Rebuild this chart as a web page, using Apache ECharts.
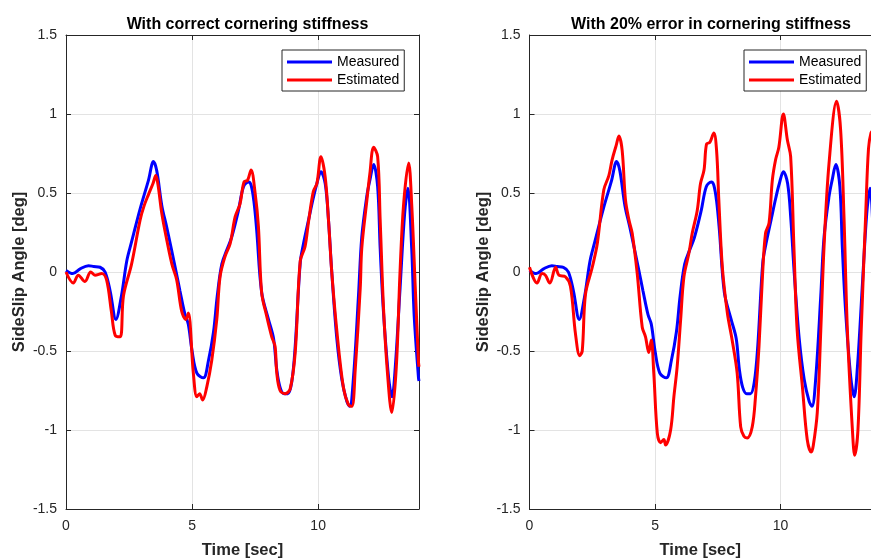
<!DOCTYPE html>
<html>
<head>
<meta charset="utf-8">
<script src="https://cdn.jsdelivr.net/npm/echarts@6/dist/echarts.min.js"></script>
<style>
html,body{margin:0;padding:0;background:#fff;}
#chart{width:871px;height:558px;}
</style>
</head>
<body>
<div id="chart"></div>
<script>
// ---- Data ----
const titles = ['With correct cornering stiffness', 'With 20% error in cornering stiffness'];
const seriesNames = ['Measured', 'Estimated'];
const yTicks = [-1.5, -1, -0.5, 0, 0.5, 1, 1.5];
const xTicks = [0, 5, 10];
const xMax = [14, 13.6];

const measT = [0, 0.27, 0.56, 0.89, 1.1, 1.35, 1.55, 1.75, 1.98, 2.2, 2.41, 2.6, 2.94, 3.27, 3.47, 3.6, 3.8, 4.0, 4.33, 4.52, 4.72, 4.85, 5.0, 5.19, 5.45, 5.65, 5.85, 6.0, 6.18, 6.38, 6.57, 6.84, 7.04, 7.24, 7.34, 7.45, 7.56, 7.76, 8.03, 8.23, 8.36, 8.49, 8.65, 8.8, 8.95, 9.09, 9.29, 9.42, 9.62, 9.81, 9.95, 10.11, 10.28, 10.41, 10.54, 10.74, 10.94, 11.14, 11.25, 11.4, 11.6, 11.73, 11.93, 12.05, 12.2, 12.36, 12.46, 12.59, 12.79, 12.93, 13.06, 13.25, 13.43, 13.56, 13.71, 13.81, 13.98, 14.0];
const measV = [0.01, -0.01, 0.02, 0.04, 0.035, 0.03, 0.0, -0.12, -0.30, -0.15, 0.07, 0.19, 0.40, 0.58, 0.70, 0.64, 0.42, 0.28, 0.03, -0.12, -0.27, -0.33, -0.50, -0.64, -0.67, -0.56, -0.38, -0.15, 0.05, 0.14, 0.22, 0.39, 0.54, 0.57, 0.55, 0.45, 0.27, -0.13, -0.30, -0.42, -0.62, -0.73, -0.77, -0.77, -0.70, -0.47, 0.06, 0.18, 0.33, 0.47, 0.56, 0.635, 0.56, 0.33, 0.0, -0.42, -0.68, -0.82, -0.85, -0.67, -0.15, 0.22, 0.48, 0.58, 0.68, 0.54, 0.15, -0.25, -0.66, -0.79, -0.60, -0.10, 0.37, 0.53, 0.15, -0.28, -0.67, -0.69];

const estAT = [0, 0.29, 0.49, 0.75, 0.98, 1.15, 1.42, 1.61, 1.8, 1.95, 2.15, 2.28, 2.6, 2.94, 3.1, 3.27, 3.45, 3.56, 3.65, 3.8, 4.0, 4.2, 4.39, 4.59, 4.75, 4.85, 5.05, 5.19, 5.3, 5.42, 5.58, 5.78, 5.98, 6.11, 6.31, 6.51, 6.71, 6.9, 7.06, 7.2, 7.34, 7.5, 7.63, 7.76, 7.96, 8.16, 8.29, 8.36, 8.49, 8.69, 8.89, 9.09, 9.29, 9.48, 9.62, 9.81, 9.95, 10.11, 10.28, 10.41, 10.54, 10.74, 11.0, 11.2, 11.34, 11.47, 11.67, 11.73, 11.93, 12.05, 12.2, 12.36, 12.46, 12.59, 12.75, 12.92, 13.1, 13.25, 13.39, 13.59, 13.71, 13.85, 13.98, 14.0];
const estAV = [0.0, -0.07, -0.02, -0.06, 0.0, -0.02, -0.01, -0.05, -0.25, -0.40, -0.41, -0.15, 0.05, 0.33, 0.42, 0.49, 0.56, 0.61, 0.55, 0.37, 0.20, 0.05, -0.05, -0.25, -0.30, -0.26, -0.64, -0.79, -0.77, -0.81, -0.73, -0.56, -0.30, -0.03, 0.10, 0.18, 0.35, 0.43, 0.57, 0.58, 0.645, 0.50, 0.29, -0.13, -0.28, -0.41, -0.47, -0.64, -0.75, -0.77, -0.74, -0.51, 0.07, 0.16, 0.32, 0.51, 0.56, 0.73, 0.60, 0.33, 0.0, -0.37, -0.73, -0.84, -0.85, -0.62, -0.10, 0.15, 0.45, 0.62, 0.79, 0.73, 0.33, -0.22, -0.64, -0.89, -0.60, 0.01, 0.43, 0.69, 0.43, -0.09, -0.57, -0.60];

const estBT = [0, 0.3, 0.5, 0.63, 0.81, 1.04, 1.17, 1.43, 1.63, 1.83, 2.0, 2.1, 2.23, 2.5, 2.7, 2.96, 3.16, 3.29, 3.45, 3.56, 3.69, 3.82, 3.96, 4.09, 4.29, 4.49, 4.62, 4.75, 4.85, 4.95, 5.09, 5.22, 5.35, 5.42, 5.62, 5.75, 5.88, 6.02, 6.15, 6.35, 6.48, 6.68, 6.81, 6.95, 7.05, 7.18, 7.34, 7.45, 7.54, 7.68, 7.88, 8.07, 8.27, 8.41, 8.54, 8.67, 8.87, 9.0, 9.14, 9.27, 9.4, 9.54, 9.67, 9.8, 9.93, 10.11, 10.27, 10.4, 10.53, 10.66, 10.87, 11.06, 11.22, 11.3, 11.46, 11.6, 11.73, 11.93, 12.23, 12.39, 12.52, 12.66, 12.86, 12.95, 13.08, 13.21, 13.39, 13.5, 13.6, 13.7];
const estBV = [0.03, -0.07, -0.01, -0.02, -0.07, 0.03, -0.02, -0.03, -0.09, -0.39, -0.53, -0.50, -0.14, 0.03, 0.18, 0.52, 0.61, 0.71, 0.80, 0.86, 0.77, 0.46, 0.33, 0.245, -0.01, -0.35, -0.41, -0.51, -0.43, -0.64, -1.02, -1.08, -1.06, -1.095, -1.0, -0.79, -0.6, -0.30, -0.03, 0.12, 0.245, 0.39, 0.56, 0.645, 0.81, 0.82, 0.88, 0.77, 0.455, 0.03, -0.26, -0.43, -0.64, -0.98, -1.04, -1.05, -0.98, -0.79, -0.47, -0.05, 0.245, 0.31, 0.58, 0.71, 0.79, 1.0, 0.835, 0.73, 0.16, -0.37, -0.73, -1.06, -1.14, -1.1, -0.89, -0.37, 0.16, 0.69, 1.08, 0.9, 0.37, -0.37, -1.0, -1.16, -1.0, -0.37, 0.37, 0.78, 0.88, 0.9];

// ---- Build ----
const zip = (t, v) => t.map((x, i) => [x, v[i]]);
const FONT = '"Liberation Sans", Arial, Helvetica, sans-serif';
const AX = '#262626';
const grids = [
  {left: 66, top: 35, width: 353, height: 474, outerBoundsMode: 'none', containLabel: false},
  {left: 529.5, top: 35, width: 341.5, height: 474, outerBoundsMode: 'none', containLabel: false}
];

const xAxes = [], yAxes = [], series = [], titleArr = [], legends = [];
grids.forEach((g, i) => {
  xAxes.push({
    type: 'value', gridIndex: i, min: 0, max: xMax[i], interval: 5, position: 'bottom',
    name: 'Time [sec]', nameLocation: 'middle', nameGap: 33,
    nameTextStyle: {fontFamily: FONT, fontSize: 16.5, fontWeight: 'bold', color: AX},
    axisLine: {show: true, onZero: false, lineStyle: {color: AX, width: 1}},
    axisTick: {show: true, inside: true, length: 5, lineStyle: {color: AX}},
    axisLabel: {show: true, showMaxLabel: false, margin: 10, fontFamily: FONT, fontSize: 14, color: AX,
      formatter: v => xTicks.includes(v) ? String(v) : ''},
    splitLine: {show: true, showMaxLine: false, lineStyle: {color: '#e3e3e3', width: 1}}
  });
  xAxes.push({
    type: 'value', gridIndex: i, min: 0, max: xMax[i], interval: 5, position: 'top',
    axisLine: {show: true, onZero: false, lineStyle: {color: AX, width: 1}},
    axisTick: {show: true, inside: true, length: 5, lineStyle: {color: AX}},
    axisLabel: {show: false}, splitLine: {show: false}
  });
  yAxes.push({
    type: 'value', gridIndex: i, min: -1.5, max: 1.5, interval: 0.5, position: 'left',
    name: 'SideSlip Angle [deg]', nameLocation: 'middle', nameGap: 38, nameRotate: 90,
    nameTextStyle: {fontFamily: FONT, fontSize: 16.5, fontWeight: 'bold', color: AX},
    axisLine: {show: true, onZero: false, lineStyle: {color: AX, width: 1}},
    axisTick: {show: true, inside: true, length: 5, lineStyle: {color: AX}},
    axisLabel: {show: true, margin: 9, fontFamily: FONT, fontSize: 14, color: AX,
      formatter: v => yTicks.includes(v) ? String(v) : ''},
    splitLine: {show: true, lineStyle: {color: '#e3e3e3', width: 1}}
  });
  yAxes.push({
    type: 'value', gridIndex: i, min: -1.5, max: 1.5, interval: 0.5, position: 'right', show: i === 0,
    axisLine: {show: true, onZero: false, lineStyle: {color: AX, width: 1}},
    axisTick: {show: true, inside: true, length: 5, lineStyle: {color: AX}},
    axisLabel: {show: false}, splitLine: {show: false}
  });
  const fullW = 353;
  titleArr.push({
    text: titles[i], left: g.left + fullW / 2, top: 12, textAlign: 'center',
    textStyle: {fontFamily: FONT, fontSize: 16, fontWeight: 'bold', color: '#000'}
  });
});

const estData = [zip(estAT, estAV), zip(estBT, estBV)];
[0, 1].forEach(i => {
  series.push({
    name: seriesNames[0], type: 'line', xAxisIndex: i * 2, yAxisIndex: i * 2,
    data: zip(measT, measV), symbol: 'none', smooth: 0.35, color: '#0000ff', clip: true,
    lineStyle: {color: '#0000ff', width: 3}, z: 3, animation: false
  });
  series.push({
    name: seriesNames[1], type: 'line', xAxisIndex: i * 2, yAxisIndex: i * 2,
    data: estData[i], symbol: 'none', smooth: 0.35, color: '#ff0000', clip: true,
    lineStyle: {color: '#ff0000', width: 3}, z: 4, animation: false
  });
});

const legendBase = {
  data: seriesNames, orient: 'vertical', top: 50, icon: 'rect',
  itemWidth: 45, itemHeight: 3, itemGap: 4, padding: [5, 5, 4, 5],
  backgroundColor: '#fff', borderColor: AX, borderWidth: 1, borderRadius: 0,
  textStyle: {fontFamily: FONT, fontSize: 14, color: '#000', padding: [0, 0, 0, 0]}
};
legends.push(Object.assign({}, legendBase, {left: 282}));
legends.push(Object.assign({}, legendBase, {left: 744}));

const chart = echarts.init(document.getElementById('chart'), null, {renderer: 'canvas'});
chart.setOption({
  backgroundColor: '#fff',
  animation: false,
  title: titleArr,
  legend: legends,
  grid: grids,
  xAxis: xAxes,
  yAxis: yAxes,
  series: series
});
</script>
</body>
</html>
